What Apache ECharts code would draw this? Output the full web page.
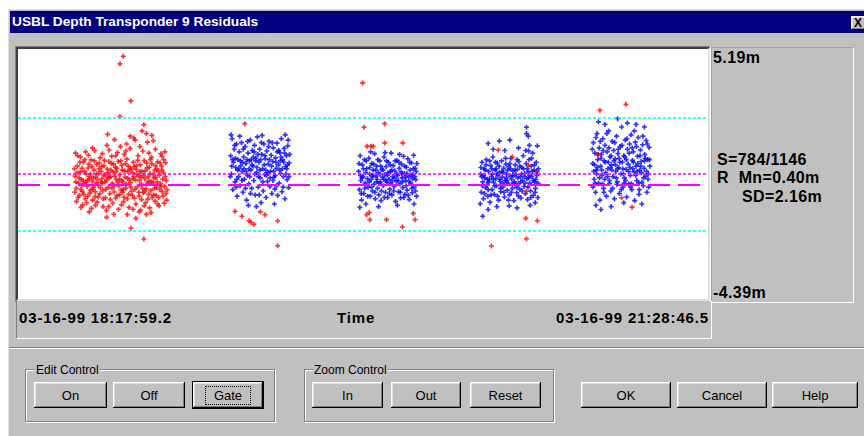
<!DOCTYPE html>
<html>
<head>
    <title>USBL Depth Transponder 9 Residuals</title>
    <meta charset="utf-8">
    <script type="text/javascript" src="https://cdn.jsdelivr.net/npm/echarts@6/dist/echarts.min.js"></script>
    <style>
        body { margin:0; width:864px; height:436px; background:#fff; overflow:hidden; position:relative;
               font-family:"Liberation Sans", Arial, sans-serif; }
        .a { position:absolute; }
        .btn { position:absolute; height:26px; background:#c0c0c0; font-size:13px; color:#000;
               display:flex; align-items:center; justify-content:center; box-sizing:border-box;
               box-shadow: inset -1px -1px #000, inset 1px 1px #fff, inset -2px -2px #808080, inset 2px 2px #dfdfdf; }
        .grp { position:absolute; border:1px solid #808080; box-shadow: 1px 1px 0 #fff, inset 1px 1px #fff; }
        .leg { position:absolute; font-size:12px; line-height:14px; background:#c0c0c0; padding:0 1px; }
        .big { position:absolute; font-size:16px; font-weight:bold; line-height:18px; letter-spacing:0.4px; white-space:pre; }
        .lab { position:absolute; font-size:15px; font-weight:bold; line-height:16px; letter-spacing:0.85px; white-space:pre; }
    </style>
</head>
<body>
    <div class="a" style="left:8px;top:9px;width:860px;height:430px;background:#c0c0c0;box-shadow:inset 1px 1px #dfdfdf;"></div>
    <div class="a" style="left:10px;top:11px;width:854px;height:22px;background:#000080;"></div>
    <div class="a" id="title" style="left:12px;top:14px;color:#fff;font-size:13.7px;font-weight:bold;line-height:16px;">USBL Depth Transponder 9 Residuals</div>
    <div class="btn" style="left:851px;top:16px;width:16px;height:14px;font-size:12px;font-weight:bold;justify-content:flex-start;padding-left:3px;">X</div>

    <!-- plot frame -->
    <div class="a" style="left:15px;top:46px;width:696px;height:256px;box-sizing:border-box;border-top:1px solid #808080;border-left:1px solid #808080;border-right:1px solid #fff;"></div>
    <div class="a" style="left:16px;top:47px;width:694px;height:254px;box-sizing:border-box;border-top:2px solid #404040;border-left:2px solid #404040;border-right:2px solid #dfdfdf;border-bottom:2px solid #dfdfdf;"></div>
    <div class="a" id="chart" style="left:18px;top:49px;width:690px;height:250px;background:#fff;"></div>

    <!-- right panel -->
    <div class="a" style="left:711px;top:47px;width:143px;height:256px;box-sizing:border-box;border-top:1px solid #a0a0a0;border-left:1px solid #a0a0a0;border-right:1px solid #fff;border-bottom:1px solid #fff;"></div>
    <div class="big" id="yTop" style="left:713px;top:49px;"></div>
    <div class="big" id="yBot" style="left:713px;top:284px;"></div>
    <div class="big" id="st0" style="left:717px;top:151px;"></div>
    <div class="big" id="st1" style="left:717px;top:169px;"></div>
    <div class="big" id="st2" style="left:742px;top:188px;"></div>

    <!-- time labels -->
    <div class="a" style="left:16px;top:301px;width:696px;height:38px;box-sizing:border-box;border-left:1px solid #808080;border-right:1px solid #fff;border-bottom:1px solid #fff;"></div>
    <div class="lab" id="tStart" style="left:19px;top:310px;"></div>
    <div class="lab" id="tName" style="left:337px;top:310px;"></div>
    <div class="lab" id="tEnd" style="right:155px;top:310px;"></div>

    <div class="a" style="left:9px;top:347px;width:855px;height:1px;background:#808080;"></div>
    <div class="a" style="left:9px;top:348px;width:855px;height:1px;background:#fff;"></div>

    <!-- controls -->
    <div class="grp" style="left:25px;top:369px;width:248px;height:51px;"></div>
    <div class="leg" style="left:35px;top:363px;">Edit Control</div>
    <div class="btn" style="left:34px;top:382px;width:73px;">On</div>
    <div class="btn" style="left:113px;top:382px;width:72px;">Off</div>
    <div class="btn" style="left:192px;top:381px;width:72px;height:28px;box-shadow: inset 1px 1px #000, inset -1px -1px #000, inset -2px -2px #000, inset 2px 2px #fff, inset -3px -3px #808080, inset 3px 3px #dfdfdf;">
        <span style="border:1px dotted #000;padding:1px 8px;">Gate</span></div>

    <div class="grp" style="left:304px;top:369px;width:248px;height:51px;"></div>
    <div class="leg" style="left:313px;top:363px;">Zoom Control</div>
    <div class="btn" style="left:312px;top:382px;width:71px;">In</div>
    <div class="btn" style="left:391px;top:382px;width:70px;">Out</div>
    <div class="btn" style="left:470px;top:382px;width:71px;">Reset</div>

    <div class="btn" style="left:581px;top:382px;width:90px;">OK</div>
    <div class="btn" style="left:677px;top:382px;width:90px;">Cancel</div>
    <div class="btn" style="left:772px;top:382px;width:86px;">Help</div>

    <script type="text/javascript">
        // x = minutes after 03-16-99 18:17:59.2, y = residual (m)
        const timeLabels = ['03-16-99 18:17:59.2', 'Time', '03-16-99 21:28:46.5'];
        const xSpan = [0, 190.79];
        const yRange = [-4.39, 5.19];
        const yLabels = ['5.19m', '-4.39m'];
        const statText = ['S=784/1146', 'R  Mn=0.40m', 'SD=2.16m'];
        const meanRes = 0.40;
        const sdRes = 2.16;

        // pass 1 - everything rejected
        const pass1Rej = [
            [15.8,0.32],[16.1,-0.15],[16.4,0.71],[16.7,0.05],[17.0,-0.42],[17.2,0.48],[17.5,0.18],[17.8,-0.27],[18.1,0.86],[18.3,0.02],
            [18.6,-0.55],[18.9,0.39],[19.1,-0.08],[19.4,0.63],[19.7,0.21],[19.9,-0.33],[20.2,0.94],[20.5,0.12],[20.7,-0.19],[21.0,0.55],
            [21.3,-0.47],[21.5,0.28],[21.8,0.77],[22.1,-0.02],[22.3,0.41],[22.6,-0.36],[22.9,0.09],[23.1,0.68],[23.4,-0.24],[23.7,0.35],
            [23.9,0.92],[24.2,-0.51],[24.5,0.15],[24.7,0.59],[25.0,-0.11],[25.3,0.26],[25.5,-0.58],[25.8,0.81],[26.1,0.04],[26.3,0.47],
            [26.6,-0.29],[26.9,0.66],[27.1,0.19],[27.4,-0.43],[27.7,0.88],[27.9,-0.06],[28.2,0.37],[28.5,-0.21],[28.7,0.73],[29.0,0.11],
            [29.3,-0.49],[29.5,0.52],[29.8,-0.14],[30.1,0.97],[30.3,0.24],[30.6,-0.38],[30.9,0.61],[31.1,0.07],[31.4,-0.26],[31.7,0.44],
            [31.9,0.85],[32.2,-0.53],[32.5,0.17],[32.7,0.58],[33.0,-0.09],[33.3,0.33],[33.5,-0.45],[33.8,0.75],[34.1,0.01],[34.3,0.49],
            [34.6,-0.31],[34.9,0.91],[35.1,0.22],[35.4,-0.17],[35.7,0.64],[35.9,-0.56],[36.2,0.13],[36.5,0.42],[36.7,-0.23],[37.0,0.79],
            [37.3,0.06],[37.5,-0.40],[37.8,0.54],[38.1,0.27],[38.3,-0.12],[38.6,0.87],[38.9,-0.50],[39.1,0.36],[39.4,0.03],[39.7,0.69],
            [39.9,-0.28],[40.2,0.45],[40.5,-0.07],[40.8,0.83],[41.0,0.14],
            [15.6,0.60],[16.0,0.10],[16.9,0.25],[17.6,-0.05],[18.4,0.50],[19.2,0.15],[20.0,0.40],[20.9,-0.10],[21.6,0.05],[22.4,0.60],
            [23.2,0.22],[24.0,0.10],[24.9,0.45],[25.6,0.30],[26.5,-0.05],[27.2,0.50],[28.0,0.20],[28.9,-0.30],[29.6,0.28],[30.4,0.50],
            [31.2,-0.10],[32.0,0.30],[32.8,0.72],[33.6,0.15],[34.4,-0.15],[35.2,0.52],[36.0,0.30],[36.8,0.10],[37.6,0.25],[38.4,0.60],
            [39.2,-0.20],[40.0,0.20],[40.9,-0.35],
            [15.7,-0.30],[16.3,0.45],[16.6,-0.50],[17.1,0.85],[17.4,-0.20],[17.7,0.62],[18.0,0.15],[18.2,-0.38],[18.5,0.95],[18.8,0.08],
            [19.3,-0.45],[19.6,0.78],[19.8,0.30],[20.1,-0.22],[20.4,0.68],[20.6,-0.60],[20.8,0.25],[21.1,0.90],[21.4,-0.28],[21.7,0.42],
            [22.0,0.18],[22.2,-0.48],[22.5,0.82],[22.8,-0.12],[23.0,0.50],[23.3,0.05],[23.6,-0.55],[23.8,0.72],[24.1,0.38],[24.3,-0.18],
            [24.8,0.28],[25.1,0.88],[25.4,-0.35],[25.7,0.55],[26.0,-0.15],[26.4,0.78],[26.8,0.32],[27.0,-0.52],[27.3,0.62],[27.6,0.08],
            [28.1,-0.40],[28.4,0.90],[28.6,0.15],[28.8,0.55],[29.1,-0.20],[29.7,0.80],[29.9,0.02],[30.2,-0.55],[30.5,0.70],[30.8,0.18],
            [31.3,0.58],[31.6,-0.42],[31.8,0.22],[32.1,0.68],[32.3,-0.18],[32.9,0.40],[33.1,0.92],[33.4,-0.30],[33.7,0.50],[34.0,0.28],
            [34.2,-0.58],[34.7,0.35],[35.0,-0.28],[35.6,0.82],[35.8,0.05],[36.1,-0.38],[36.3,0.65],[36.6,0.95],[37.1,-0.50],[37.4,0.38],
            [37.7,-0.15],[38.0,0.72],[38.2,-0.42],[38.5,0.10],[38.8,0.48],[39.3,0.82],[39.6,-0.08],[39.8,0.55],[40.1,-0.45],[40.3,0.95],
            [40.7,0.30],[41.2,-0.20],
            [15.9,1.20],[17.3,1.05],[19.5,1.12],[21.2,1.30],[22.7,1.02],[24.6,1.50],[25.9,1.08],[27.5,1.22],[28.3,1.45],[29.4,1.15],
            [31.0,1.38],[32.4,1.70],[33.2,1.10],[34.5,1.28],[35.8,1.62],[36.9,1.04],[38.0,1.35],[39.5,1.18],[40.6,1.25],[26.7,1.72],
            [30.0,1.55],[37.4,1.68],[16.5,1.10],[18.7,1.25],[20.6,1.40],[23.3,1.18],[25.2,1.32],[27.0,1.10],[29.8,1.28],[33.7,1.45],
            [36.2,1.20],[39.8,1.08],
            [29.1,4.91],[28.2,4.62],[31.2,3.20],[28.2,2.60],[34.8,2.29],[34.3,2.05],[35.5,1.95],[37.0,1.88],[24.8,1.92],[31.0,1.85],[32.0,1.78],
            [16.2,-0.65],[17.9,-0.78],[19.0,-0.70],[20.3,-0.92],[21.9,-0.68],[23.5,-0.85],[24.4,-1.00],[26.2,-0.72],[27.8,-0.95],[29.2,-0.66],
            [30.7,-0.88],[32.6,-0.75],[33.9,-0.98],[35.3,-0.70],[36.4,-0.90],[37.9,-0.64],[39.0,-0.82],[40.4,-0.72],[41.1,-0.60],
            [17.4,-0.88],[21.4,-0.80],[25.1,-0.85],[28.6,-0.78],[31.8,-0.95],[34.9,-0.82],[38.6,-0.75],[19.7,-1.05],[36.8,-1.08],
            [31.2,-1.68],[34.8,-2.09],[24.5,-1.26],[26.5,-1.15],[30.2,-1.15],[32.6,-1.30],[35.5,-1.15],[33.5,-1.05]
        ];

        const pass2Acc = [
            [58.8,1.10],[59.0,0.40],[59.2,1.75],[59.4,-0.20],[59.6,0.85],[59.8,1.35],[60.0,0.10],[60.2,0.65],[60.4,1.55],[60.6,-0.45],
            [60.8,0.95],[61.0,0.30],[61.2,1.25],[61.4,-0.05],[61.6,0.72],[61.8,1.60],[62.0,0.50],[62.2,-0.30],[62.4,1.05],[62.6,0.20],
            [62.8,1.45],[63.0,0.80],[63.2,-0.60],[63.4,0.35],[63.6,1.20],[63.8,0.02],[64.0,0.90],[64.2,1.70],[64.4,0.55],[64.6,-0.15],
            [64.8,1.30],[65.0,0.70],[65.2,0.15],[65.4,1.50],[65.6,-0.40],[65.8,1.00],[66.0,0.45],[66.2,1.82],[66.4,-0.10],[66.6,0.85],
            [66.8,1.35],[67.0,0.25],[67.2,-0.70],[67.4,1.15],[67.6,0.60],[67.8,-0.25],[68.0,1.55],[68.2,0.38],[68.4,0.98],[68.6,-0.50],
            [68.8,1.28],[69.0,0.12],[69.2,0.78],[69.4,1.65],[69.6,-0.08],[69.8,0.50],[70.0,1.12],[70.2,-0.35],[70.4,0.88],[70.6,1.40],
            [70.8,0.28],[71.0,-0.18],[71.2,1.02],[71.4,0.62],[71.6,1.58],[71.8,-0.42],[72.0,0.75],[72.2,0.05],[72.4,1.22],[72.6,0.42],
            [72.8,1.75],[73.0,-0.28],[73.2,0.95],[73.4,0.30],[73.6,1.38],[73.8,-0.55],[74.0,0.68],[74.2,1.10],[74.4,0.18],[74.6,1.48],
            [74.8,-0.12],[75.0,0.82],
            [59.1,0.70],[60.1,1.00],[61.1,0.60],[62.1,0.85],[63.1,0.50],[64.1,0.30],[65.1,1.05],[66.1,0.65],[67.1,0.95],[68.1,0.75],
            [69.1,0.45],[70.1,0.70],[71.1,0.35],[72.1,1.30],[73.1,0.60],[74.1,0.40],[60.5,0.20],[62.5,0.60],[64.5,0.95],[66.5,0.30],
            [68.5,0.55],[70.5,0.15],[72.5,0.90],[74.5,0.75],[58.9,1.90],[63.7,-0.80],[65.9,-0.85],[67.5,1.88],[70.9,-0.75],[73.9,1.90],
            [58.7,0.30],[59.3,0.95],[59.9,1.50],[60.3,-0.10],[60.7,0.55],[61.3,1.85],[61.5,0.90],[61.9,0.15],[62.3,1.35],[62.9,-0.15],
            [63.3,0.95],[63.5,1.65],[63.9,0.60],[64.3,-0.35],[64.7,0.75],[65.3,1.25],[65.5,0.40],[65.7,0.90],[66.3,1.15],[66.7,-0.40],
            [66.9,0.55],[67.3,1.60],[67.7,0.10],[68.3,1.10],[68.7,0.35],[69.3,1.45],[69.5,0.95],[69.7,0.25],[70.3,1.60],[70.7,0.50],
            [71.3,0.85],[71.5,-0.05],[71.7,1.25],[72.3,0.55],[72.7,1.05],[73.3,-0.10],[73.5,0.85],[73.7,1.20],[74.3,0.60],[74.7,1.70],
            [74.9,0.30],[75.1,1.15]
        ];
        const pass2Rej = [
            [62.7,2.33],[60.0,-1.03],[61.9,-1.22],[63.9,-1.39],[64.4,-1.45],[65.2,-1.53],[68.3,-1.16],[67.0,-1.05],[71.8,-1.40],[71.8,-2.35]
        ];

        const pass3Acc = [
            [94.2,0.50],[94.4,-0.20],[94.6,1.10],[94.8,0.15],[95.0,-0.60],[95.2,0.75],[95.4,0.30],[95.6,-0.35],[95.8,0.95],[96.0,0.05],
            [96.2,-0.75],[96.4,0.60],[96.6,0.22],[96.8,-0.10],[97.0,1.00],[97.2,0.40],[97.4,-0.45],[97.6,0.18],[97.8,0.80],[98.0,-0.25],
            [98.2,0.55],[98.4,0.00],[98.6,1.18],[98.8,-0.55],[99.0,0.32],[99.2,0.70],[99.4,-0.15],[99.6,0.45],[99.8,-0.40],[100.0,0.90],
            [100.2,0.10],[100.4,-0.62],[100.6,0.58],[100.8,0.28],[101.0,-0.05],[101.2,1.05],[101.4,0.38],[101.6,-0.30],[101.8,0.68],[102.0,0.08],
            [102.2,-0.50],[102.4,0.85],[102.6,0.20],[102.8,-0.18],[103.0,0.48],[103.2,1.20],[103.4,-0.40],[103.6,0.30],[103.8,0.72],[104.0,-0.08],
            [104.2,0.52],[104.4,-0.65],[104.6,0.12],[104.8,0.92],[105.0,0.35],[105.2,-0.28],[105.4,0.62],[105.6,0.02],[105.8,-0.52],[106.0,0.78],
            [106.2,0.25],[106.4,-0.12],[106.6,1.08],[106.8,0.42],[107.0,-0.38],[107.2,0.15],[107.4,0.66],[107.6,-0.22],[107.8,0.98],[108.0,0.30],
            [108.2,-0.58],[108.4,0.55],[108.6,0.05],[108.8,0.82],[109.0,-0.32],[109.2,0.38],[109.4,1.12],[109.6,-0.10],[109.8,0.62],[110.0,0.18],
            [110.2,-0.45],
            [95.1,0.25],[96.1,0.45],[97.1,0.10],[98.1,0.30],[99.1,0.10],[100.1,0.40],[101.1,0.20],[102.1,0.35],[103.1,0.05],[104.1,0.25],
            [105.1,0.15],[106.1,0.40],[107.1,0.28],[108.1,0.12],[109.1,0.22],[110.1,0.50],[94.5,-0.88],[99.7,-0.85],[104.9,-0.80],[109.5,-0.75],
            [97.5,1.25],[101.5,1.22],[105.5,1.15],
            [94.3,0.80],[94.7,0.35],[94.9,-0.35],[95.5,0.60],[95.9,-0.15],[96.3,0.90],[96.7,-0.45],[97.3,0.65],[97.7,-0.10],[97.9,0.35],
            [98.3,0.78],[98.7,-0.30],[98.9,0.55],[99.3,0.20],[99.5,0.95],[99.9,0.05],[100.3,0.70],[100.5,-0.25],[100.9,0.55],[101.3,-0.50],
            [101.7,0.15],[101.9,0.90],[102.3,0.45],[102.7,-0.35],[102.9,0.75],[103.3,0.55],[103.5,0.15],[103.9,-0.25],[104.3,0.90],[104.7,0.38],
            [105.3,0.85],[105.7,-0.30],[105.9,0.48],[106.3,0.10],[106.7,-0.50],[106.9,0.70],[107.3,-0.05],[107.5,0.42],[107.9,-0.42],[108.3,0.85],
            [108.7,0.35],[108.9,-0.15],[109.3,0.60],[109.7,0.30],[109.9,-0.25],[110.3,0.80]
        ];
        const pass3Rej = [
            [95.3,3.89],[95.7,2.19],[101.4,2.33],[96.5,1.46],[97.6,1.46],[98.2,1.46],[101.4,1.59],[106.4,1.59],
            [96.4,-1.16],[97.1,-1.08],[97.3,-1.35],[101.9,-1.35],[106.3,-1.63],[109.3,-1.11],[109.8,-1.35]
        ];

        const pass4Acc = [
            [127.9,0.40],[128.1,-0.30],[128.3,0.85],[128.5,0.10],[128.7,-0.55],[128.9,0.60],[129.1,0.25],[129.3,-0.12],[129.5,0.95],[129.7,0.00],
            [129.9,-0.45],[130.1,0.50],[130.3,0.18],[130.5,-0.68],[130.7,0.72],[130.9,0.30],[131.1,-0.20],[131.3,1.05],[131.5,0.08],[131.7,-0.38],
            [131.9,0.55],[132.1,0.22],[132.3,-0.05],[132.5,0.82],[132.7,0.35],[132.9,-0.60],[133.1,0.45],[133.3,0.12],[133.5,-0.28],[133.7,0.90],
            [133.9,0.28],[134.1,-0.10],[134.3,0.62],[134.5,-0.48],[134.7,0.15],[134.9,0.78],[135.1,0.40],[135.3,-0.22],[135.5,0.05],[135.7,0.68],
            [135.9,-0.40],[136.1,0.32],[136.3,1.00],[136.5,0.20],[136.7,-0.15],[136.9,0.52],[137.1,-0.62],[137.3,0.10],[137.5,0.75],[137.7,0.38],
            [137.9,-0.32],[138.1,0.58],[138.3,0.02],[138.5,0.88],[138.7,-0.18],[138.9,0.30],[139.1,-0.52],[139.3,0.65],[139.5,0.15],[139.7,1.10],
            [139.9,-0.08],[140.1,0.42],[140.3,-0.35],[140.5,0.80],[140.7,0.22],[140.9,-0.58],[141.1,0.48],[141.3,0.95],[141.5,0.05],[141.7,-0.25],
            [141.9,0.70],[142.1,0.30],[142.3,1.20],[142.5,-0.42],[142.7,0.55],[142.9,0.10],[143.1,-0.15],[143.3,0.85],[143.5,0.35],[143.7,-0.50],
            [143.9,0.60],
            [128.2,0.30],[129.2,0.55],[130.2,0.10],[131.2,0.40],[132.2,0.60],[133.2,0.20],[134.2,0.45],[135.2,0.15],[136.2,0.60],[137.2,0.35],
            [138.2,0.25],[139.2,0.40],[140.2,0.05],[141.2,0.25],[142.2,0.50],[143.2,0.20],
            [128.0,0.65],[128.4,-0.05],[128.8,0.35],[129.0,-0.35],[129.4,0.75],[129.8,0.20],[130.0,-0.20],[130.4,0.90],[130.8,-0.40],[131.0,0.60],
            [131.4,0.20],[131.8,-0.05],[132.0,0.85],[132.4,0.40],[132.6,-0.45],[133.0,0.70],[133.4,-0.15],[133.8,0.50],[134.0,0.05],[134.4,-0.30],
            [134.8,1.00],[135.0,0.25],[135.4,0.55],[135.6,-0.60],[136.0,0.80],[136.4,-0.30],[136.8,0.35],[137.0,0.05],[137.4,0.55],[137.8,-0.10],
            [138.0,0.95],[138.4,-0.45],[138.8,0.70],[139.0,0.10],[139.4,-0.25],[139.8,0.60],[140.0,0.30],[140.4,1.30],[140.8,0.60],[141.0,-0.10],
            [141.4,0.35],[141.8,-0.50],[142.0,1.00],[142.4,0.15],[142.8,0.75],[143.0,-0.30],[143.4,0.50],[143.8,0.05],
            [140.6,2.19],[140.6,1.95],[141.1,1.85],[141.4,1.50],[143.6,1.48],[141.2,1.28],[130.0,1.57],[133.1,1.66],[136.0,1.70],[131.4,1.35],
            [134.6,1.30],[138.4,1.40],[128.5,-1.22],[130.0,-0.96],[127.8,-0.74],[132.4,-0.85],[135.8,-0.82],[138.0,-0.90],[141.6,-0.80],[143.0,-0.70]
        ];
        const pass4Rej = [
            [132.8,1.32],[136.7,1.05],[141.1,0.73],[143.6,0.49],[140.6,-0.26],[140.4,-1.30],[143.6,-1.39],[140.6,-2.08],[130.9,-2.36]
        ];

        const pass5Acc = [
            [158.9,0.80],[159.1,1.60],[159.3,0.20],[159.5,1.20],[159.7,-0.30],[159.9,0.55],[160.1,1.95],[160.3,0.95],[160.5,0.05],[160.7,1.40],
            [160.9,-0.60],[161.1,0.70],[161.3,1.15],[161.5,0.35],[161.7,1.75],[161.9,-0.15],[162.1,0.90],[162.3,1.50],[162.5,0.45],[162.7,-0.45],
            [162.9,1.25],[163.1,0.60],[163.3,2.05],[163.5,0.15],[163.7,1.05],[163.9,-0.25],[164.1,0.75],[164.3,1.65],[164.5,0.30],[164.7,1.30],
            [164.9,-0.55],[165.1,0.98],[165.3,0.50],[165.5,1.85],[165.7,0.10],[165.9,1.18],[166.1,0.65],[166.3,-0.35],[166.5,1.45],[166.7,0.40],
            [166.9,2.20],[167.1,0.85],[167.3,-0.10],[167.5,1.10],[167.7,0.25],[167.9,1.70],[168.1,0.58],[168.3,-0.48],[168.5,1.35],[168.7,0.78],
            [168.9,0.02],[169.1,1.55],[169.3,0.35],[169.5,1.90],[169.7,-0.20],[169.9,0.92],[170.1,1.25],[170.3,0.48],[170.5,-0.62],[170.7,1.62],
            [170.9,0.70],[171.1,0.15],[171.3,1.08],[171.5,1.80],[171.7,-0.38],[171.9,0.55],[172.1,1.32],[172.3,0.88],[172.5,0.08],[172.7,1.52],
            [172.9,-0.05],[173.1,0.62],[173.3,1.15],[173.5,0.32],[173.7,1.68],[173.9,-0.30],[174.1,0.95],[174.3,0.40],[174.5,1.42],[174.7,0.70],
            [159.2,0.50],[160.2,0.65],[161.2,1.00],[162.2,0.20],[163.2,0.85],[164.2,0.55],[165.2,0.75],[166.2,1.00],[167.2,0.60],[168.2,0.95],
            [169.2,0.65],[170.2,0.85],[171.2,0.50],[172.2,0.70],[173.2,0.90],[174.2,0.20],[159.6,0.05],[161.6,0.02],[163.6,0.04],[165.6,0.00],
            [167.6,0.05],[169.6,0.03],[171.6,0.06],
            [158.8,1.35],[159.0,-0.10],[159.4,0.75],[159.8,1.80],[160.0,0.40],[160.4,1.15],[160.8,0.25],[161.0,1.65],[161.4,0.55],[161.8,1.30],
            [162.0,-0.30],[162.4,0.85],[162.8,1.95],[163.0,0.30],[163.4,1.40],[163.8,0.65],[164.0,1.10],[164.4,-0.15],[164.8,0.90],[165.0,1.60],
            [165.4,0.25],[165.8,0.60],[166.0,1.35],[166.4,0.85],[166.8,-0.20],[167.0,1.50],[167.4,0.40],[167.8,1.05],[168.0,0.15],[168.4,1.75],
            [168.8,0.50],[169.0,1.20],[169.4,-0.10],[169.8,1.40],[170.0,0.60],[170.4,2.05],[170.8,0.35],[171.0,1.45],[171.4,0.80],[171.8,-0.20],
            [172.0,1.10],[172.4,0.45],[172.8,1.85],[173.0,0.25],[173.4,1.00],[173.8,0.50],[174.0,1.55],[174.4,-0.10],[174.6,0.95],
            [160.5,2.40],[165.8,2.52],[162.3,2.30],[168.5,2.35],[173.2,2.20],[170.9,2.30],[159.8,-0.80],[161.2,-0.96],[164.0,-0.85],[167.5,-0.70],
            [172.5,-0.75]
        ];
        const pass5Rej = [
            [160.9,2.84],[168.1,3.07],[160.4,1.13],[166.9,-0.51],[169.8,-0.87]
        ];

        document.getElementById('tStart').textContent = timeLabels[0];
        document.getElementById('tName').textContent = timeLabels[1];
        document.getElementById('tEnd').textContent = timeLabels[2];
        document.getElementById('yTop').textContent = yLabels[0];
        document.getElementById('yBot').textContent = yLabels[1];
        statText.forEach((s, i) => document.getElementById('st' + i).textContent = s);

        const plus = 'path://M2,0H4V2H6V4H4V6H2V4H0V2H2Z';
        const accepted = [].concat(pass2Acc, pass3Acc, pass4Acc, pass5Acc);
        const rejected = [].concat(pass1Rej, pass2Rej, pass3Rej, pass4Rej, pass5Rej);

        const dotted = (v, c) => ({ yAxis: v, lineStyle: { color: c, width: 1.5, type: [3, 2] } });

        const chart = echarts.init(document.getElementById('chart'));
        chart.setOption({
            animation: false,
            backgroundColor: '#fff',
            grid: { left: 0, right: 0, top: 0, bottom: 0 },
            xAxis: { type: 'value', min: xSpan[0], max: xSpan[1], show: false },
            yAxis: { type: 'value', min: yRange[0], max: yRange[1], show: false },
            series: [
                { name: 'accepted', type: 'scatter', data: accepted, symbol: plus, symbolSize: 5,
                  itemStyle: { color: '#0000ff' }, silent: true },
                { name: 'rejected', type: 'scatter', data: rejected, symbol: plus, symbolSize: 5,
                  itemStyle: { color: '#ff0000' }, silent: true },
                { name: 'levels', type: 'line', data: [], z: 5,
                  markLine: {
                      silent: true, symbol: ['none', 'none'], label: { show: false },
                      data: [
                          { yAxis: 0, lineStyle: { color: '#ff00ff', width: 2, type: [22, 8] } },
                          dotted(meanRes, '#ff00ff'),
                          dotted(meanRes + sdRes, '#00ffff'),
                          dotted(meanRes - sdRes, '#00ffff')
                      ]
                  } }
            ]
        });
    </script>
</body>
</html>
